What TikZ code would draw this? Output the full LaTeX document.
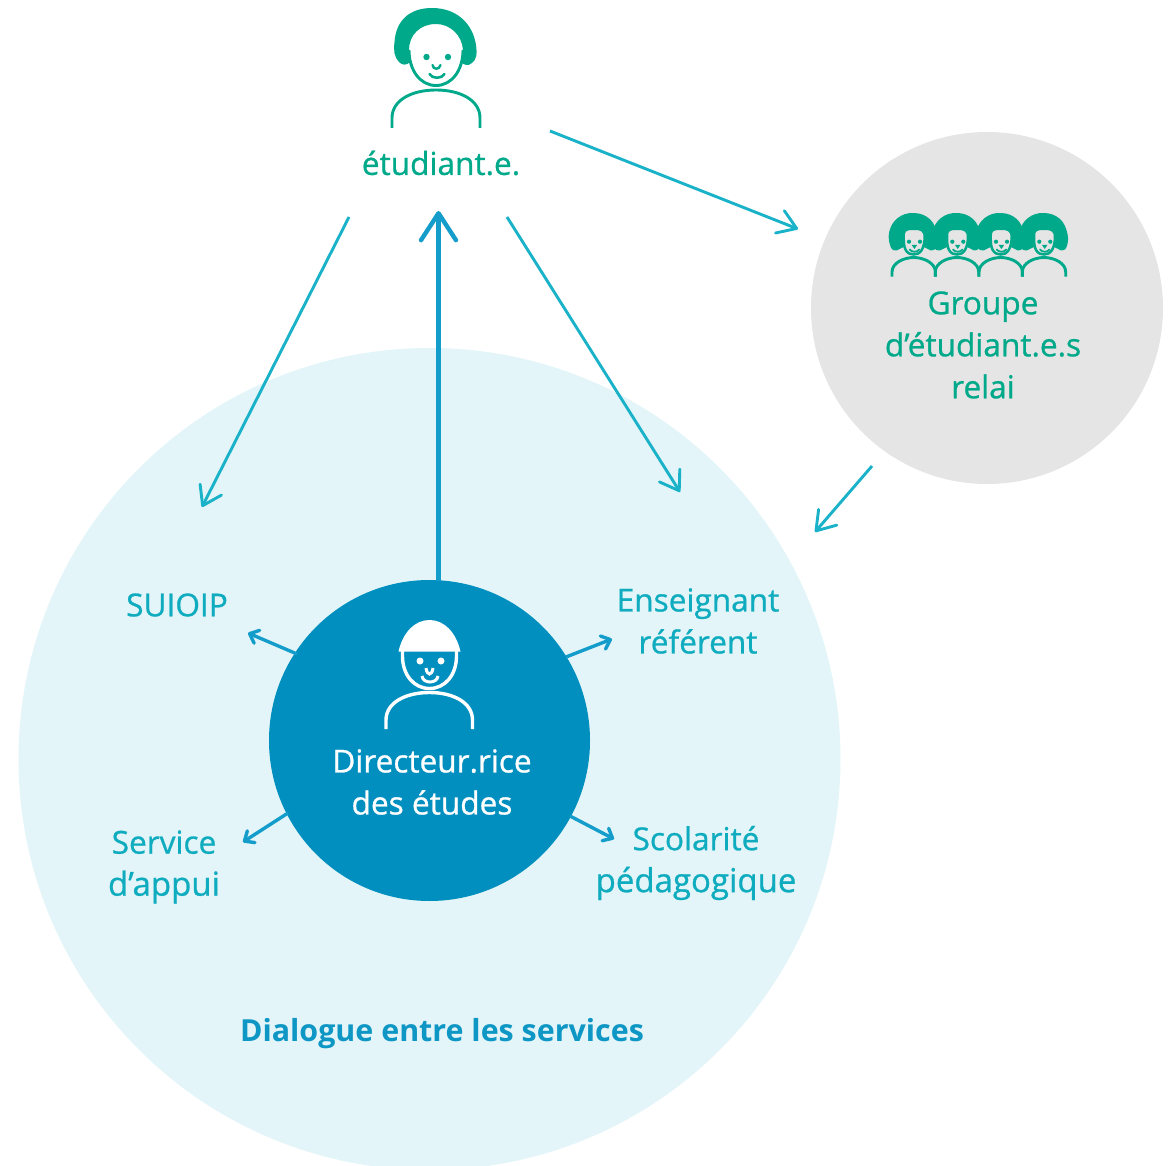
\documentclass[tikz,border=0pt]{standalone}
\usepackage{fontspec}
\setmainfont{Open Sans}
\newfontfamily\labfont[FakeBold=0.8]{Open Sans}
\usetikzlibrary{arrows.meta}
\definecolor{teal}{HTML}{1AB2C8}
\definecolor{labelteal}{HTML}{0FACBF}
\definecolor{green}{HTML}{00A98A}
\definecolor{dblue}{HTML}{008FBF}
\definecolor{arrowblue}{HTML}{149CCB}
\definecolor{headblue}{HTML}{0E96C4}
\definecolor{pale}{HTML}{E3F5F8}
\definecolor{lgrey}{HTML}{E5E5E5}
\newcommand{\widerline}[1]{{\fontsize{33}{42}\selectfont #1}}
\tikzset{
  x=1pt,y=-1pt,
  lab/.style={font=\labfont\fontsize{31.6}{42}\selectfont,align=center,inner sep=0pt},
  longarrow/.style={draw=teal,line width=2.9pt,-{Straight Barb[round,length=18pt,width=24pt,line width=2.9pt]}},
  bigarrow/.style={draw=arrowblue,line width=4.4pt,-{Straight Barb[round,length=27pt,width=35pt,line width=4.4pt]}},
  smallarrow/.style={draw=arrowblue,line width=3.4pt,-{Straight Barb[round,length=8pt,width=14pt,line width=3.4pt]}},
  pics/grouphead/.style={code={
    \fill[green] plot[smooth cycle,tension=.7] coordinates {(-24.5,32)(-23,47)(-17,50.5)(-10,47)(0,50)(10,47)(17,50.5)(22.5,47)(23.5,34)(16,19)(0,13)(-16,18)};
    \draw[green,line width=2.5pt,fill=lgrey] plot[smooth cycle,tension=.7] coordinates {(-10,37)(-8,30)(0,29)(8,30)(11,37)(8,50)(0,54.5)(-8,50)};
    \fill[green] (-4.7,41.7) circle (2.1) (6.3,41.7) circle (2.1);
    \fill[green] (-2,45) -- (3.4,45) -- (0.7,49) -- cycle;
    \draw[green,line width=1.8pt,line cap=round] (-4,49.5) .. controls (-2,52.5) and (3.5,52.5) .. (5.5,49.5);
    \draw[green,line width=2.9pt] (-21.7,76.7) -- (-21.7,72) .. controls (-21.7,63) and (-10,57.5) .. (0,57.5) .. controls (10,57.5) and (21.7,63) .. (21.7,72) -- (21.7,76.7);
  }}
}
\begin{document}
\begin{tikzpicture}
\useasboundingbox (0,0) rectangle (1168,1166);
\begin{scope}
\clip (0,0) rectangle (1168,1166);
\node[circle,fill=pale,minimum size=822pt,inner sep=0pt] (services) at (429.5,759) {};
\end{scope}
\node[circle,fill=lgrey,minimum size=352pt,inner sep=0pt] (relai) at (987,308) {};
\node[circle,fill=dblue,minimum size=321pt,inner sep=0pt] (dir) at (429.5,740.5) {};

% student
\fill[green] (410,62) .. controls (407,65.5) and (402,65.5) .. (399,62) .. controls (394,57) and (393.5,50) .. (394.5,42) .. controls (396,20) and (410,8) .. (432,8) .. controls (458,8) and (473,25) .. (476,45) .. controls (477.5,55) and (476,60) .. (472,63) .. controls (468,66.5) and (464,65) .. (461,62) -- (463,50) .. controls (462,35) and (450,24) .. (436,24) .. controls (420,24) and (409,35) .. (409,50) -- cycle;
\draw[green,line width=2.9pt] (409,50) .. controls (409,70) and (420,85.5) .. (436,85.5) .. controls (452,85.5) and (463,70) .. (463,50);
\fill[green] (426.5,57) circle (3.2) (448,57) circle (3.2);
\draw[green,line width=2.4pt,line cap=round] (432.5,65) .. controls (433,70) and (439.5,70) .. (440.5,65);
\draw[green,line width=2.6pt,line cap=round] (429.5,74) .. controls (432,79) and (442,79) .. (444.5,74);
\draw[green,line width=2.9pt] (392,128) -- (392,118) .. controls (392,100) and (412,90) .. (436,90) .. controls (460,90) and (480,100) .. (480,118) -- (480,128);

% director
\fill[white] (398.5,651.5) .. controls (403,632) and (415,620) .. (429.5,620) .. controls (444,620) and (456,632) .. (460.5,651.5) -- cycle;
\draw[white,line width=3.4pt] (402.5,651) -- (402.5,656) .. controls (402.5,675) and (414,688.5) .. (429.5,688.5) .. controls (445,688.5) and (456.5,675) .. (456.5,656) -- (456.5,651);
\fill[white] (420,661) circle (3.5) (441,661) circle (3.5);
\draw[white,line width=3pt] (426,668) .. controls (427,676) and (432,676) .. (433,668);
\draw[white,line width=3pt] (422,676) .. controls (423,684) and (437,684) .. (438,676);
\draw[white,line width=3.4pt] (386,729) -- (386,720) .. controls (386,703) and (405,692.5) .. (429.5,692.5) .. controls (454,692.5) and (472.5,703) .. (472.5,720) -- (472.5,729);

% group of students
\foreach \cx in {1000.7,1044,957,913.7}{
  \pic at (\cx,200) {grouphead};
}

% labels
\node[lab,text=green] (tstudent) at (441,163) {étudiant.e.};
\node[lab,text=green] (tgroup) at (983,345) {Groupe\\d’étudiant.e.s\\relai};
\node[lab,text=labelteal] (tsuioip) at (177,605) {SUIOIP};
\node[lab,text=labelteal] (tens) at (698,621) {Enseignant\\référent};
\node[lab,text=labelteal] (tapp) at (164,867) {Service\\\widerline{d’appui}};
\node[lab,text=labelteal] (tsco) at (696,863) {Scolarité\\\widerline{pédagogique}};
\node[lab,text=white] (tdir) at (432,782) {Directeur.rice\\des études};
\node[inner sep=0pt,text=headblue,font=\bfseries\fontsize{30.4}{42}\selectfont] (tdia) at (442,1034) {Dialogue entre les services};

% connector ends
\coordinate (a1) at (550,131); \coordinate (a2) at (798,229);
\coordinate (b1) at (349,217); \coordinate (b2) at (202,507);
\coordinate (c1) at (507,217); \coordinate (c2) at (680,492);
\coordinate (d1) at (438.5,581); \coordinate (d2) at (438.5,211);
\coordinate (e1) at (872,466); \coordinate (e2) at (815,532);
\coordinate (f1) at (297,654); \coordinate (f2) at (248,633);
\coordinate (g1) at (566,657); \coordinate (g2) at (612,639);
\coordinate (h1) at (288,813); \coordinate (h2) at (243,842);
\coordinate (i1) at (570,816); \coordinate (i2) at (614,839);
\draw[longarrow] (a1) -- (a2);
\draw[longarrow] (b1) -- (b2);
\draw[longarrow] (c1) -- (c2);
\draw[longarrow] (e1) -- (e2);
\draw[bigarrow] (d1) -- (d2);
\draw[smallarrow] (f1) -- (f2);
\draw[smallarrow] (g1) -- (g2);
\draw[smallarrow] (h1) -- (h2);
\draw[smallarrow] (i1) -- (i2);
\end{tikzpicture}
\end{document}
